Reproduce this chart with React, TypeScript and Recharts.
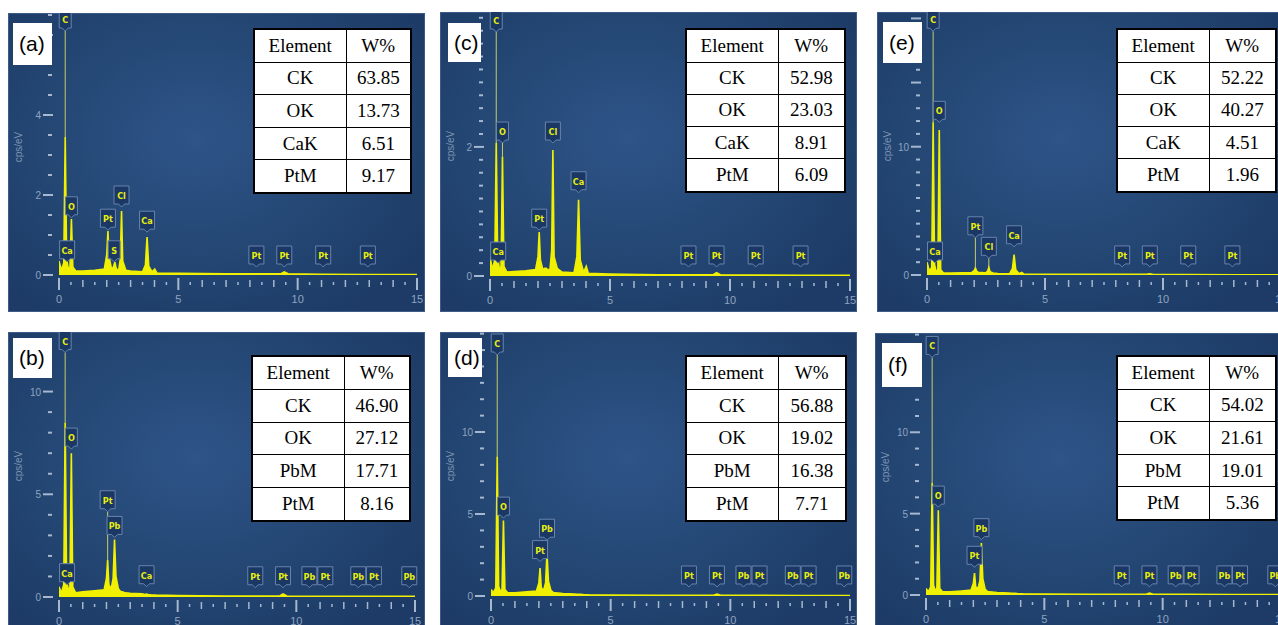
import React from 'react';
import { ComposedChart, Area, XAxis, YAxis, ReferenceDot, ReferenceLine } from 'recharts';

// energy grid shared by all spectra (keV)
const energy = [
  0, 0.1, 0.2, 0.26, 0.32, 0.4, 0.46, 0.52, 0.58, 0.7, 1.0, 1.5, 1.9, 2.0, 2.05, 2.1, 2.2, 2.28, 2.34, 2.4,
  2.5, 2.57, 2.62, 2.67, 2.8, 3.0, 3.5, 3.62, 3.69, 3.76, 3.9, 4.01, 4.1, 5.0, 7.0, 9.3, 9.44, 9.6, 11.0, 13.0, 15.0,
];

// cps/eV
const countsA = [
  0.35, 0.12, 0.3, 3.45, 0.4, 0.12, 0.2, 1.4, 0.2, 0.1, 0.1, 0.12, 0.15, 0.5, 1.1, 0.45, 0.15, 0.2, 0.32, 0.15,
  0.12, 0.4, 1.6, 0.35, 0.12, 0.1, 0.08, 0.25, 0.95, 0.22, 0.08, 0.15, 0.05, 0.04, 0.03, 0.03, 0.08, 0.03, 0.02, 0.01, 0.01,
];
const countsB = [
  0.5, 0.2, 0.6, 8.5, 0.8, 0.3, 0.5, 7.0, 0.5, 0.2, 0.25, 0.3, 0.35, 0.9, 1.8, 0.6, 0.4, 0.9, 2.8, 1.0,
  0.4, 0.3, 0.25, 0.25, 0.2, 0.18, 0.15, 0.12, 0.14, 0.12, 0.1, 0.1, 0.09, 0.07, 0.05, 0.05, 0.15, 0.05, 0.04, 0.03, 0.03,
];
const countsC = [
  0.3, 0.1, 0.25, 2.06, 0.3, 0.08, 0.15, 1.85, 0.15, 0.06, 0.07, 0.08, 0.1, 0.3, 0.68, 0.25, 0.1, 0.12, 0.12, 0.1,
  0.1, 0.4, 1.95, 0.3, 0.12, 0.06, 0.05, 0.3, 1.18, 0.25, 0.06, 0.15, 0.04, 0.03, 0.02, 0.02, 0.05, 0.02, 0.015, 0.01, 0.01,
];
const countsD = [
  0.4, 0.2, 0.5, 8.5, 0.6, 0.25, 0.4, 4.6, 0.4, 0.2, 0.2, 0.25, 0.3, 0.8, 1.7, 0.5, 0.35, 0.8, 2.6, 0.9,
  0.35, 0.25, 0.2, 0.2, 0.18, 0.15, 0.12, 0.1, 0.1, 0.1, 0.08, 0.08, 0.07, 0.06, 0.05, 0.05, 0.12, 0.05, 0.04, 0.03, 0.03,
];
const countsE = [
  1.0, 0.3, 0.6, 11.9, 0.8, 0.2, 0.4, 11.3, 0.4, 0.15, 0.15, 0.18, 0.2, 0.35, 0.55, 0.3, 0.18, 0.2, 0.2, 0.18,
  0.18, 0.3, 0.6, 0.25, 0.15, 0.12, 0.1, 0.5, 1.6, 0.4, 0.1, 0.2, 0.08, 0.06, 0.05, 0.05, 0.1, 0.04, 0.03, 0.02, 0.02,
];
const countsF = [
  0.4, 0.2, 0.5, 6.9, 0.6, 0.25, 0.4, 5.2, 0.4, 0.2, 0.2, 0.25, 0.3, 0.7, 1.35, 0.5, 0.4, 0.9, 3.2, 1.0,
  0.35, 0.25, 0.2, 0.2, 0.18, 0.15, 0.12, 0.1, 0.1, 0.1, 0.08, 0.08, 0.07, 0.06, 0.05, 0.05, 0.12, 0.05, 0.04, 0.03, 0.03,
];

// peak tags: [element, keV where the tag sits, value at the tag's bottom]
type Tag = [string, number, number];
const tagsA: Tag[] = [
  ['C', 0.26, 6.1], ['O', 0.52, 1.43], ['Ca', 0.34, 0.33], ['Pt', 2.05, 1.12], ['S', 2.31, 0.33],
  ['Cl', 2.62, 1.7], ['Ca', 3.69, 1.07], ['Pt', 8.27, 0.2], ['Pt', 9.44, 0.2], ['Pt', 11.07, 0.2], ['Pt', 12.94, 0.2],
];
const tagsB: Tag[] = [
  ['C', 0.26, 11.9], ['O', 0.52, 7.2], ['Ca', 0.34, 0.6], ['Pt', 2.05, 4.15], ['Pb', 2.34, 2.9], ['Ca', 3.69, 0.5],
  ['Pt', 8.27, 0.45], ['Pt', 9.44, 0.45], ['Pb', 10.55, 0.45], ['Pt', 11.22, 0.45], ['Pb', 12.61, 0.45],
  ['Pt', 13.27, 0.45], ['Pb', 14.76, 0.45],
];
const tagsC: Tag[] = [
  ['C', 0.26, 3.78], ['O', 0.52, 2.06], ['Ca', 0.34, 0.2], ['Pt', 2.05, 0.71], ['Cl', 2.62, 2.06], ['Ca', 3.69, 1.29],
  ['Pt', 8.27, 0.14], ['Pt', 9.44, 0.14], ['Pt', 11.07, 0.14], ['Pt', 12.94, 0.14],
];
const tagsD: Tag[] = [
  ['C', 0.26, 14.7], ['O', 0.52, 4.75], ['Pb', 2.34, 3.4], ['Pt', 2.05, 2.1],
  ['Pt', 8.27, 0.55], ['Pt', 9.44, 0.55], ['Pb', 10.55, 0.55], ['Pt', 11.22, 0.55], ['Pb', 12.61, 0.55],
  ['Pt', 13.27, 0.55], ['Pb', 14.76, 0.55],
];
const tagsE: Tag[] = [
  ['C', 0.26, 19], ['O', 0.52, 11.9], ['Ca', 0.34, 0.94], ['Pt', 2.05, 2.9], ['Cl', 2.62, 1.3], ['Ca', 3.69, 2.2],
  ['Pt', 8.27, 0.63], ['Pt', 9.44, 0.63], ['Pt', 11.07, 0.63], ['Pt', 12.94, 0.63],
];
const tagsF: Tag[] = [
  ['C', 0.26, 14.6], ['O', 0.52, 5.4], ['Pb', 2.34, 3.4], ['Pt', 2.05, 1.7],
  ['Pt', 8.27, 0.5], ['Pt', 9.44, 0.5], ['Pb', 10.55, 0.5], ['Pt', 11.22, 0.5], ['Pb', 12.61, 0.5],
  ['Pt', 13.27, 0.5], ['Pb', 14.76, 0.5],
];

// composition tables
const tableA = [['CK', '63.85'], ['OK', '13.73'], ['CaK', '6.51'], ['PtM', '9.17']];
const tableB = [['CK', '46.90'], ['OK', '27.12'], ['PbM', '17.71'], ['PtM', '8.16']];
const tableC = [['CK', '52.98'], ['OK', '23.03'], ['CaK', '8.91'], ['PtM', '6.09']];
const tableD = [['CK', '56.88'], ['OK', '19.02'], ['PbM', '16.38'], ['PtM', '7.71']];
const tableE = [['CK', '52.22'], ['OK', '40.27'], ['CaK', '4.51'], ['PtM', '1.96']];
const tableF = [['CK', '54.02'], ['OK', '21.61'], ['PbM', '19.01'], ['PtM', '5.36']];

// axis ticks
const xTicks = [
  0, 0.5, 1, 1.5, 2, 2.5, 3, 3.5, 4, 4.5, 5, 5.5, 6, 6.5, 7, 7.5, 8, 8.5, 9, 9.5, 10, 10.5, 11, 11.5, 12, 12.5,
  13, 13.5, 14, 14.5, 15,
];
const xLabels = [0, 5, 10, 15];
const ticksA = [0, 0.5, 1, 1.5, 2, 2.5, 3, 3.5, 4, 4.5, 5, 5.5, 6, 6.5];
const ticksB = [0, 1, 2, 3, 4, 5, 6, 7, 8, 9, 10, 11, 12];
const ticksC = [0, 0.2, 0.4, 0.6, 0.8, 1, 1.2, 1.4, 1.6, 1.8, 2, 2.2, 2.4, 2.6, 2.8, 3, 3.2, 3.4, 3.6, 3.8, 4];
const ticksDF = [0, 1, 2, 3, 4, 5, 6, 7, 8, 9, 10, 11, 12, 13, 14, 15, 16];
const ticksE = [0, 1, 2, 3, 4, 5, 6, 7, 8, 9, 10, 11, 12, 13, 14, 15, 16, 17, 18, 19, 20];
// labelled y ticks (the top ones sit under the panel badge in the reference)
const majorA = [0, 2, 4];
const majorB = [0, 5, 10];
const majorC = [0, 2];
const majorDF = [0, 5, 10];
const majorE = [0, 10];

const YELLOW = '#f0f000';
const TICK = '#a6b8cf';

interface PanelCfg {
  tag: string;
  left: number;
  top: number;
  width: number;
  height: number;
  plotLeft: number;
  plotRight: number;
  baseline: number;
  yMax: number;
  yTicks: number[];
  yMajor: number[];
  counts: number[];
  tags: Tag[];
  rows: string[][];
  table: { left: number; top: number; width: number; height: number; col: number };
  badge: { left: number; top: number; width: number; height: number };
}

const panels: PanelCfg[] = [
  {
    tag: 'a', left: 8, top: 13, width: 417, height: 299, plotLeft: 51, plotRight: 409, baseline: 262,
    yMax: 6.55, yTicks: ticksA, yMajor: majorA, counts: countsA, tags: tagsA, rows: tableA,
    table: { left: 245, top: 15, width: 159, height: 166, col: 92 }, badge: { left: 5, top: 10, width: 39, height: 42 },
  },
  {
    tag: 'c', left: 440, top: 12, width: 417, height: 300, plotLeft: 50, plotRight: 410, baseline: 264,
    yMax: 4.09, yTicks: ticksC, yMajor: majorC, counts: countsC, tags: tagsC, rows: tableC,
    table: { left: 245, top: 16, width: 161, height: 165, col: 92 }, badge: { left: 8, top: 11, width: 33, height: 39 },
  },
  {
    tag: 'e', left: 877, top: 12, width: 410, height: 300, plotLeft: 50, plotRight: 404, baseline: 263,
    yMax: 20.5, yTicks: ticksE, yMajor: majorE, counts: countsE, tags: tagsE, rows: tableE,
    table: { left: 239, top: 16, width: 161, height: 165, col: 92 }, badge: { left: 6, top: 10, width: 39, height: 41 },
  },
  {
    tag: 'b', left: 8, top: 332, width: 417, height: 299, plotLeft: 51, plotRight: 407, baseline: 265,
    yMax: 12.9, yTicks: ticksB, yMajor: majorB, counts: countsB, tags: tagsB, rows: tableB,
    table: { left: 243, top: 23, width: 160, height: 167, col: 92 }, badge: { left: 5, top: 6, width: 39, height: 40 },
  },
  {
    tag: 'd', left: 440, top: 332, width: 417, height: 299, plotLeft: 51, plotRight: 410, baseline: 264,
    yMax: 16.1, yTicks: ticksDF, yMajor: majorDF, counts: countsD, tags: tagsD, rows: tableD,
    table: { left: 245, top: 23, width: 162, height: 167, col: 92 }, badge: { left: 8, top: 6, width: 34, height: 39 },
  },
  {
    tag: 'f', left: 875, top: 333, width: 410, height: 299, plotLeft: 51, plotRight: 406, baseline: 262,
    yMax: 16.1, yTicks: ticksDF, yMajor: majorDF, counts: countsF, tags: tagsF, rows: tableF,
    table: { left: 241, top: 22, width: 161, height: 166, col: 92 }, badge: { left: 7, top: 10, width: 40, height: 44 },
  },
];

// little boxed element marker with a tail pointing at the peak
const PeakTag = ({ cx, cy, text }: { cx: number; cy: number; text: string }) => {
  const w = text.length > 1 ? 15 : 12;
  const h = 18;
  const top = cy - h - 3;
  const half = w / 2;
  const d = `M${cx - half},${top} h${w} v${h} h${-(half - 3)} l-3,3 l-3,-3 h${-(half - 3)} z`;
  return (
    <g>
      <path d={d} fill="#1b3763" stroke="#6784ad" strokeWidth={1} />
      <text
        x={cx}
        y={top + 13}
        textAnchor="middle"
        fontSize={9}
        fontWeight="bold"
        fill="#e6ee10"
        fontFamily="'DejaVu Sans Condensed', 'DejaVu Sans', sans-serif"
      >
        {text}
      </text>
    </g>
  );
};

const XTick = (props: any) => {
  const { x, y, payload } = props;
  const v = payload.value as number;
  const big = xLabels.includes(v);
  const whole = Number.isInteger(v);
  const y1 = y + (big ? 3 : whole ? 5 : 7);
  const y2 = y + (big ? 15 : whole ? 12 : 10);
  return (
    <g>
      <line x1={x} x2={x} y1={y1} y2={y2} stroke={TICK} strokeWidth={big ? 2 : 1.5} />
      {big && (
        <text x={x} y={y + 28} textAnchor="middle" fontSize={11} fill="#8fa4c0" fontFamily="'Liberation Sans', Arial">
          {v}
        </text>
      )}
    </g>
  );
};

const makeYTick = (majors: number[]) => (props: any) => {
  const { x, y, payload } = props;
  const v = payload.value as number;
  const major = majors.includes(v) || v % 5 === 0 && v >= 15 || (majors === majorA && v === 6);
  const labelled = majors.includes(v);
  return (
    <g>
      <line
        x1={x - (major ? 16 : 11)}
        x2={x - (major ? 6 : 7)}
        y1={y}
        y2={y}
        stroke={TICK}
        strokeWidth={2}
      />
      {labelled && (
        <text
          x={x - 18}
          y={y + 4}
          textAnchor="end"
          fontSize={10}
          fill="#8fa4c0"
          fontFamily="'Liberation Sans', Arial"
        >
          {v}
        </text>
      )}
    </g>
  );
};

const nearestIndex = (e: number) => {
  let best = 0;
  energy.forEach((x, i) => {
    if (Math.abs(x - e) < Math.abs(energy[best] - e)) best = i;
  });
  return best;
};

const Panel = ({ cfg }: { cfg: PanelCfg }) => {
  const data = energy.map((e, i) => ({ e, v: cfg.counts[i] }));
  const yTick = makeYTick(cfg.yMajor);
  return (
    <div
      style={{
        position: 'absolute',
        left: cfg.left,
        top: cfg.top,
        width: cfg.width,
        height: cfg.height,
        background:
          'radial-gradient(ellipse 65% 70% at 45% 42%, #2e5488 0%, #244774 55%, #1d3b66 100%)',
        boxShadow: 'inset 0 0 0 1px #3c5c88',
      }}
    >
      <ComposedChart
        width={cfg.width}
        height={cfg.height}
        data={data}
        margin={{ top: 0, right: cfg.width - cfg.plotRight, bottom: 0, left: 0 }}
      >
        <XAxis
          dataKey="e"
          type="number"
          domain={[0, 15]}
          ticks={xTicks}
          interval={0}
          tick={XTick}
          tickLine={false}
          axisLine={false}
          tickSize={0}
          tickMargin={0}
          height={cfg.height - cfg.baseline}
          allowDataOverflow
        />
        <YAxis
          type="number"
          domain={[0, cfg.yMax]}
          ticks={cfg.yTicks}
          interval={0}
          tick={yTick}
          tickLine={false}
          axisLine={false}
          tickSize={0}
          tickMargin={0}
          width={cfg.plotLeft}
          allowDataOverflow
        />
        <Area
          dataKey="v"
          type="linear"
          stroke={YELLOW}
          strokeWidth={1.6}
          fill={YELLOW}
          fillOpacity={1}
          dot={false}
          activeDot={false}
          isAnimationActive={false}
        />
        {cfg.tags.map(([el, e, top], i) => {
          const k = nearestIndex(e);
          const peak = cfg.counts[k];
          return top - peak > cfg.yMax * 0.03 && Math.abs(energy[k] - e) < 0.05 ? (
            <ReferenceLine
              key={`l${i}`}
              segment={[{ x: e, y: peak }, { x: e, y: top }]}
              stroke="#c3cd6a"
              strokeWidth={1}
              ifOverflow="visible"
            />
          ) : null;
        })}
        {cfg.tags.map(([el, e, top], i) => (
          <ReferenceDot
            key={`t${i}`}
            x={e}
            y={top}
            r={0}
            ifOverflow="visible"
            shape={(p: any) => <PeakTag cx={p.cx} cy={p.cy} text={el} />}
          />
        ))}
      </ComposedChart>

      <div
        style={{
          position: 'absolute',
          left: 10,
          top: 134,
          transform: 'translate(-50%, -50%) rotate(-90deg)',
          fontSize: 10,
          color: '#7d94b3',
          fontFamily: "'Liberation Sans', Arial",
          whiteSpace: 'nowrap',
        }}
      >
        cps/eV
      </div>

      <div
        style={{
          position: 'absolute',
          left: cfg.badge.left,
          top: cfg.badge.top,
          width: cfg.badge.width,
          height: cfg.badge.height,
          background: '#fff',
          fontFamily: "'Liberation Sans', Arial",
          fontSize: 21,
          lineHeight: `${cfg.badge.height}px`,
          paddingLeft: 6,
          boxSizing: 'border-box',
          color: '#000',
        }}
      >
        ({cfg.tag})
      </div>

      <table
        style={{
          position: 'absolute',
          left: cfg.table.left,
          top: cfg.table.top,
          width: cfg.table.width,
          height: cfg.table.height,
          borderCollapse: 'collapse',
          background: '#fff',
          border: '2px solid #000',
          fontFamily: "'Liberation Serif', 'Times New Roman', serif",
          fontSize: 19,
          color: '#000',
          tableLayout: 'fixed',
        }}
      >
        <colgroup>
          <col style={{ width: cfg.table.col }} />
          <col />
        </colgroup>
        <tbody>
          {[['Element', 'W%'], ...cfg.rows].map((r, i) => (
            <tr key={i}>
              {r.map((c, j) => (
                <td
                  key={j}
                  style={{ border: '1.5px solid #000', textAlign: 'center', padding: 0, whiteSpace: 'nowrap' }}
                >
                  {c}
                </td>
              ))}
            </tr>
          ))}
        </tbody>
      </table>
    </div>
  );
};

export default function App() {
  return (
    <div
      style={{
        position: 'fixed',
        left: 0,
        top: 0,
        width: 1278,
        height: 625,
        overflow: 'hidden',
        background: '#fff',
      }}
    >
      {panels.map((p) => (
        <Panel key={p.tag} cfg={p} />
      ))}
    </div>
  );
}
